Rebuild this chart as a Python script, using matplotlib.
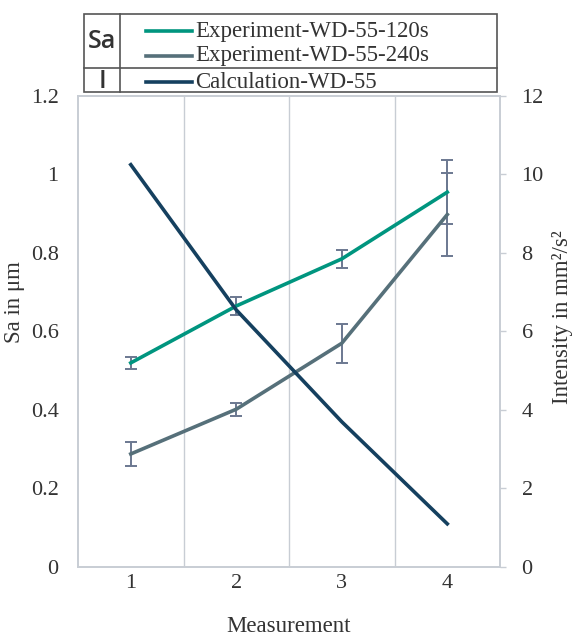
import numpy as np
import matplotlib.pyplot as plt
from matplotlib.lines import Line2D
from matplotlib.patches import Rectangle

plt.rcParams['font.family'] = ['Liberation Serif', 'DejaVu Serif']

# data
measurement = [1, 2, 3, 4]
sa_120 = [0.52, 0.665, 0.785, 0.955]
sa_120_err = [0.016, 0.023, 0.022, 0.082]
sa_240 = [0.288, 0.402, 0.570, 0.898]
sa_240_err = [0.030, 0.017, 0.049, 0.106]
intensity = [10.25, 6.55, 3.70, 1.10]
labels = ['Experiment-WD-55-120s', 'Experiment-WD-55-240s', 'Calculation-WD-55']
colors = ['#00957F', '#56707A', '#15405F']
err_color = '#6B7890'
frame_color = '#C8CDD4'
txt_color = '#333333'
fs = 16.5

fig = plt.figure(figsize=(5.75, 6.37), dpi=100)
ax = fig.add_axes([0.1357, 0.1099, 0.7339, 0.7394])
ax2 = ax.twinx()

ax.errorbar(measurement, sa_120, yerr=sa_120_err, color=colors[0], lw=2.6,
            ecolor=err_color, elinewidth=1.4, capsize=4, capthick=1.4, zorder=3)
ax.errorbar(measurement, sa_240, yerr=sa_240_err, color=colors[1], lw=2.6,
            ecolor=err_color, elinewidth=1.4, capsize=4, capthick=1.4, zorder=3)
ax2.plot(measurement, intensity, color=colors[2], lw=2.6)

ax.set_xlim(0.5, 4.5)
ax.set_ylim(0, 1.2)
ax2.set_ylim(0, 12)
ax.set_xticks(measurement)
ax.set_yticks(np.arange(0, 1.21, 0.2))
ax.set_yticklabels(['0', '0.2', '0.4', '0.6', '0.8', '1', '1.2'])
ax2.set_yticks(np.arange(0, 13, 2))

# category separators
for xb in [1.5, 2.5, 3.5]:
    ax.axvline(xb, color=frame_color, lw=1, zorder=0)

for a in (ax, ax2):
    for s in a.spines.values():
        s.set_color(frame_color)
        s.set_linewidth(1.2)

ax.tick_params(axis='y', length=0, pad=14, labelsize=16, colors=txt_color)
ax.tick_params(axis='x', length=0, pad=5, labelsize=16, colors=txt_color)
ax2.tick_params(axis='y', length=4.5, width=1, color=frame_color, pad=11,
                labelsize=16, labelcolor=txt_color)

ax.set_xlabel('Measurement', fontsize=fs, color=txt_color)
ax.xaxis.set_label_coords(0.5, -0.104)
ax.set_ylabel('Sa in μm', fontsize=fs, color=txt_color)
ax.yaxis.set_label_coords(-0.126, 0.563)
ax2.set_ylabel('Intensity in mm²/s²', fontsize=fs, color=txt_color)
ax2.yaxis.set_label_coords(1.124, 0.531)

# table-style legend at the top
W, H = 575.0, 637.0
def fx(px):
    return px / W
def fy(py):
    return 1 - py / H

border = '#555555'
fig.patches.append(Rectangle((fx(84), fy(92)), fx(497) - fx(84), fy(14) - fy(92),
                             transform=fig.transFigure, fill=False,
                             edgecolor=border, lw=1.2))
fig.lines.append(Line2D([fx(120), fx(120)], [fy(14), fy(92)],
                        transform=fig.transFigure, color=border, lw=1.2))
fig.lines.append(Line2D([fx(84), fx(497)], [fy(68), fy(68)],
                        transform=fig.transFigure, color=border, lw=1.2))
fig.text(fx(102), fy(41), 'Sa', ha='center', va='center', fontsize=18,
         family='Open Sans', weight='semibold', color=txt_color)
fig.text(fx(102), fy(81), 'I', ha='center', va='center', fontsize=18,
         family='Open Sans', weight='semibold', color=txt_color)
row_y = [31, 56, 82]
for lab, col, ry in zip(labels, colors, row_y):
    fig.lines.append(Line2D([fx(146), fx(192)], [fy(ry), fy(ry)],
                            transform=fig.transFigure, color=col, lw=2.6))
    fig.text(fx(195), fy(ry), lab, ha='left', va='center', fontsize=fs,
             color=txt_color)

fig.savefig('out.png', dpi=100)
